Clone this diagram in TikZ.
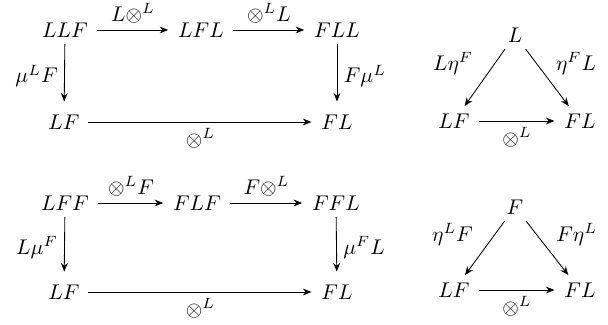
\documentclass[tikz,border=0pt]{standalone}
\usetikzlibrary{arrows.meta}
\tikzset{
  >={Stealth[length=4pt,width=3.2pt]},
  obj/.style={inner xsep=4pt,inner ysep=3pt},
  mor/.style={->,line width=0.4pt,shorten >=0.5pt},
  vmor/.style={mor,shorten >=3pt},
  lbl/.style={inner sep=3pt},
}

\begin{document}
\begin{tikzpicture}[x=0.47pt,y=-0.47pt]
  \useasboundingbox (0,0) rectangle (608,324);

  % associativity square, upper
  \node[obj] (llf) at (65,30)  {$LLF$};
  \node[obj] (lfl) at (201,30) {$LFL$};
  \node[obj] (fll) at (337,30) {$FLL$};
  \node[obj] (lfa) at (64,122) {$LF$};
  \node[obj] (fla) at (337,122){$FL$};
  \draw[mor] (llf) -- node[lbl,above] (ma1) {$L{\otimes}^L$} (lfl);
  \draw[mor] (lfl) -- node[lbl,above] (ma2) {${\otimes}^L L$} (fll);
  \draw[vmor] (llf) -- node[lbl,left]  (ma3) {$\mu^L F$} (lfa);
  \draw[vmor] (fll) -- node[lbl,right] (ma4) {$F\mu^L$} (fla);
  \draw[mor] (lfa) -- node[lbl,below] (ma5) {${\otimes}^L$} (fla);

  % unit triangle, upper
  \node[obj] (l)   at (515,35)  {$L$};
  \node[obj] (lfb) at (454,121) {$LF$};
  \node[obj] (flb) at (580,121) {$FL$};
  \draw[mor] (l) -- node[lbl,pos=0.25,left=7pt]  (mb1) {$L\eta^F$} (lfb);
  \draw[mor] (l) -- node[lbl,pos=0.25,right=6pt] (mb2) {$\eta^F L$} (flb);
  \draw[mor] (lfb) -- node[lbl,below] (mb3) {${\otimes}^L$} (flb);

  % associativity square, lower
  \node[obj] (lff) at (65,203)  {$LFF$};
  \node[obj] (flf) at (197,203) {$FLF$};
  \node[obj] (ffl) at (336,203) {$FFL$};
  \node[obj] (lfc) at (64,292)  {$LF$};
  \node[obj] (flc) at (337,292) {$FL$};
  \draw[mor] (lff) -- node[lbl,above] (mc1) {${\otimes}^L F$} (flf);
  \draw[mor] (flf) -- node[lbl,above] (mc2) {$F{\otimes}^L$} (ffl);
  \draw[vmor] (lff) -- node[lbl,left]  (mc3) {$L\mu^F$} (lfc);
  \draw[vmor] (ffl) -- node[lbl,right] (mc4) {$\mu^F L$} (flc);
  \draw[mor] (lfc) -- node[lbl,below] (mc5) {${\otimes}^L$} (flc);

  % unit triangle, lower
  \node[obj] (f)   at (515,207) {$F$};
  \node[obj] (lfd) at (454,290) {$LF$};
  \node[obj] (fld) at (580,290) {$FL$};
  \draw[mor] (f) -- node[lbl,pos=0.25,left=7pt]  (md1) {$\eta^L F$} (lfd);
  \draw[mor] (f) -- node[lbl,pos=0.25,right=6pt] (md2) {$F\eta^L$} (fld);
  \draw[mor] (lfd) -- node[lbl,below] (md3) {${\otimes}^L$} (fld);
\end{tikzpicture}
\end{document}
